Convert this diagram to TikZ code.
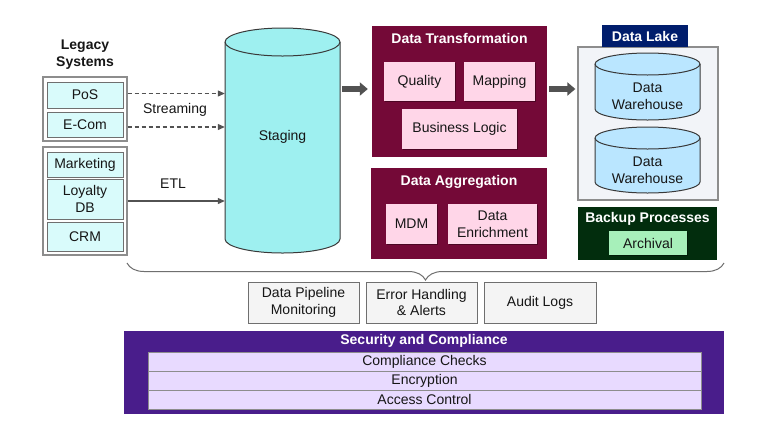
\documentclass[tikz,border=0pt]{standalone}
\usepackage{fontspec}
\setmainfont{Liberation Sans}
\usetikzlibrary{arrows.meta,shadows,decorations.pathreplacing}

\begin{document}
\begin{tikzpicture}[x=1pt,y=-1pt,
    font=\fontsize{14}{16.5}\selectfont,
    every node/.style={text=ink},
    softshadow/.style={drop shadow={shadow xshift=1.2pt,shadow yshift=-1.2pt,opacity=0.35,fill=black}},
    srcgroup/.style={draw=grpline, line width=1.3pt, fill=white, minimum width=84pt, inner sep=0},
    srcbox/.style={draw=boxline, line width=0.9pt, fill=srcfill, softshadow, minimum width=76pt, inner sep=0, align=center},
    panel/.style={fill=#1, draw=none, inner sep=0},
    paneltitle/.style={text=white, font=\fontsize{14}{16.5}\selectfont\bfseries},
    pinkbox/.style={fill=pinkfill, softshadow, minimum height=39pt, inner sep=0, align=center},
    opsbox/.style={draw=boxline, line width=0.9pt, fill=opsfill, softshadow, minimum width=111pt, minimum height=41pt, inner sep=0, align=center},
    secrow/.style={draw=grpline, line width=0.9pt, fill=rowfill, minimum width=553pt, minimum height=19pt, inner sep=0},
    feed/.style={draw=arrowgray, line width=1.1pt, -{Triangle[length=7pt,width=6pt]}},
    bigarrow/.style={draw=arrowgray, line width=5.5pt, -{Triangle[length=8pt,width=13pt]}}]
    % Define colors
    \definecolor{ink}{HTML}{161616}
    \definecolor{grpline}{HTML}{8D8D8D}
    \definecolor{boxline}{HTML}{6F6F6F}
    \definecolor{arrowgray}{HTML}{525252}
    \definecolor{drumline}{HTML}{393939}
    \definecolor{srcfill}{HTML}{D9FBFB}
    \definecolor{stagefill}{HTML}{9EF0F0}
    \definecolor{dwfill}{HTML}{BAE6FF}
    \definecolor{maroon}{HTML}{740937}
    \definecolor{pinkfill}{HTML}{FFD6E8}
    \definecolor{lakefill}{HTML}{F2F4F8}
    \definecolor{navy}{HTML}{001D6C}
    \definecolor{darkgreen}{HTML}{022D0D}
    \definecolor{archfill}{HTML}{A7F0BA}
    \definecolor{opsfill}{HTML}{F4F4F4}
    \definecolor{secpurple}{HTML}{491D8B}
    \definecolor{rowfill}{HTML}{E8DAFF}

    \fill[white] (0,0) rectangle (768,432);
    \useasboundingbox (0,0) rectangle (768,432);

    % Legacy systems
    \node[align=center, font=\fontsize{14}{17}\selectfont\bfseries] (legacy) at (85,55) {Legacy\\Systems};
    \node[srcgroup, minimum height=64pt] (upper) at (85,109) {};
    \node[srcbox, minimum height=26pt] (pos) at (85,95) {PoS};
    \node[srcbox, minimum height=25pt] (ecom) at (85,124.5) {E-Com};
    \node[srcgroup, minimum height=108pt] (lower) at (85,201) {};
    \node[srcbox, minimum height=25pt] (mkt) at (85,164.5) {Marketing};
    \node[srcbox, minimum height=40pt] (loyalty) at (85,199) {Loyalty\\DB};
    \node[srcbox, minimum height=29pt] (crm) at (85,236.5) {CRM};

    % Staging cylinder
    \foreach \cx/\top/\bot/\rx/\ry/\col in {282.5/28/253/57.5/14/stagefill} {
        \filldraw[fill=\col, draw=drumline, line width=1pt]
            (\cx-\rx,\top+\ry) -- (\cx-\rx,\bot-\ry)
            arc[start angle=180, end angle=360, x radius=\rx pt, y radius=\ry pt]
            -- (\cx+\rx,\top+\ry)
            arc[start angle=0, end angle=180, x radius=\rx pt, y radius=\ry pt] -- cycle;
        \draw[drumline, line width=1pt] (\cx-\rx,\top+\ry)
            arc[start angle=180, end angle=360, x radius=\rx pt, y radius=\ry pt];
    }
    \node[minimum width=115pt, minimum height=200pt, inner sep=0] (staging) at (282.5,137) {Staging};

    % Feeds into staging
    \draw[feed, dash pattern=on 4pt off 3pt] (upper.east |- pos) ++(0,-1.5) coordinate (feeda) (feeda) -- (staging.west |- feeda);
    \draw[feed, dash pattern=on 4pt off 3pt] (upper.east |- ecom) ++(0,2.5) coordinate (feedb) (feedb) -- (staging.west |- feedb);
    \node (streaming) at (175,110) {Streaming};
    \draw[feed] (lower.east) -- (staging.west |- lower.east);
    \node (etl) at (173,184) {ETL};

    % Data transformation
    \node[panel=maroon, minimum width=175pt, minimum height=131pt] (transform) at (459.5,91.5) {};
    \node[paneltitle] (transformtitle) at (459.5,38) {Data Transformation};
    \node[pinkbox, minimum width=71pt] (quality) at (419.5,81.5) {Quality};
    \node[pinkbox, minimum width=71pt] (mapping) at (499.5,81.5) {Mapping};
    \node[pinkbox, minimum width=115pt, minimum height=40pt] (logic) at (459.5,129) {Business Logic};

    % Data aggregation
    \node[panel=maroon, minimum width=176pt, minimum height=91pt] (aggregate) at (459,213.5) {};
    \node[paneltitle] (aggregatetitle) at (459,182) {Data Aggregation};
    \node[pinkbox, minimum width=51pt, minimum height=40pt] (mdm) at (411.5,224) {MDM};
    \node[pinkbox, minimum width=89pt, minimum height=40pt] (enrich) at (492.5,224) {Data\\Enrichment};

    % Data lake
    \node[draw=grpline, line width=1.3pt, fill=lakefill, minimum width=140pt, minimum height=153pt, inner sep=0] (lake) at (648,123.5) {};
    \node[panel=navy, minimum width=86pt, minimum height=22pt, paneltitle] (laketitle) at (645,36) {Data Lake};
    \foreach \cx/\top/\bot/\rx/\ry/\col in {647.5/53/120/52.5/11/dwfill,
                                            647.5/127/193/52.5/11/dwfill} {
        \filldraw[fill=\col, draw=drumline, line width=1pt]
            (\cx-\rx,\top+\ry) -- (\cx-\rx,\bot-\ry)
            arc[start angle=180, end angle=360, x radius=\rx pt, y radius=\ry pt]
            -- (\cx+\rx,\top+\ry)
            arc[start angle=0, end angle=180, x radius=\rx pt, y radius=\ry pt] -- cycle;
        \draw[drumline, line width=1pt] (\cx-\rx,\top+\ry)
            arc[start angle=180, end angle=360, x radius=\rx pt, y radius=\ry pt];
    }
    \node[align=center] (dwa) at (647.5,96) {Data\\Warehouse};
    \node[align=center] (dwb) at (647.5,170) {Data\\Warehouse};

    % Backup
    \node[panel=darkgreen, minimum width=139pt, minimum height=53pt] (backup) at (647.5,233.5) {};
    \node[paneltitle] (backuptitle) at (647.5,219) {Backup Processes};
    \node[fill=archfill, softshadow, minimum width=78pt, minimum height=24pt, inner sep=0] (archival) at (648,243) {Archival};

    % Main flow
    \draw[bigarrow, shorten <=2pt, shorten >=4pt] (staging.east |- transform) ++(0,-2.5) coordinate (flowa) (flowa) -- (transform.west |- flowa);
    \draw[bigarrow, shorten <=2pt, shorten >=2pt] (transform.east |- flowa) -- (lake.west |- flowa);

    % Brace over operations
    \coordinate (bracel) at (127,263);
    \coordinate (bracer) at (724,263);
    \draw[boxline, line width=1pt, decorate, decoration={brace, mirror, amplitude=17pt}] (bracel) -- (bracer);

    % Operations
    \node[opsbox] (monitor) at (303.5,302.5) {Data Pipeline\\Monitoring};
    \node[opsbox] (errors) at (421.5,302.5) {Error Handling\\\& Alerts};
    \node[opsbox, minimum width=112pt] (audit) at (540,302.5) {Audit Logs};

    % Security and compliance
    \node[panel=secpurple, minimum width=600pt, minimum height=83pt] (security) at (424,372.5) {};
    \node[paneltitle] (securitytitle) at (424,341) {Security and Compliance};
    \node[secrow] (checks) at (424.5,361.5) {Compliance Checks};
    \node[secrow] (encrypt) at (424.5,380.5) {Encryption};
    \node[secrow] (access) at (424.5,399.5) {Access Control};
\end{tikzpicture}
\end{document}
